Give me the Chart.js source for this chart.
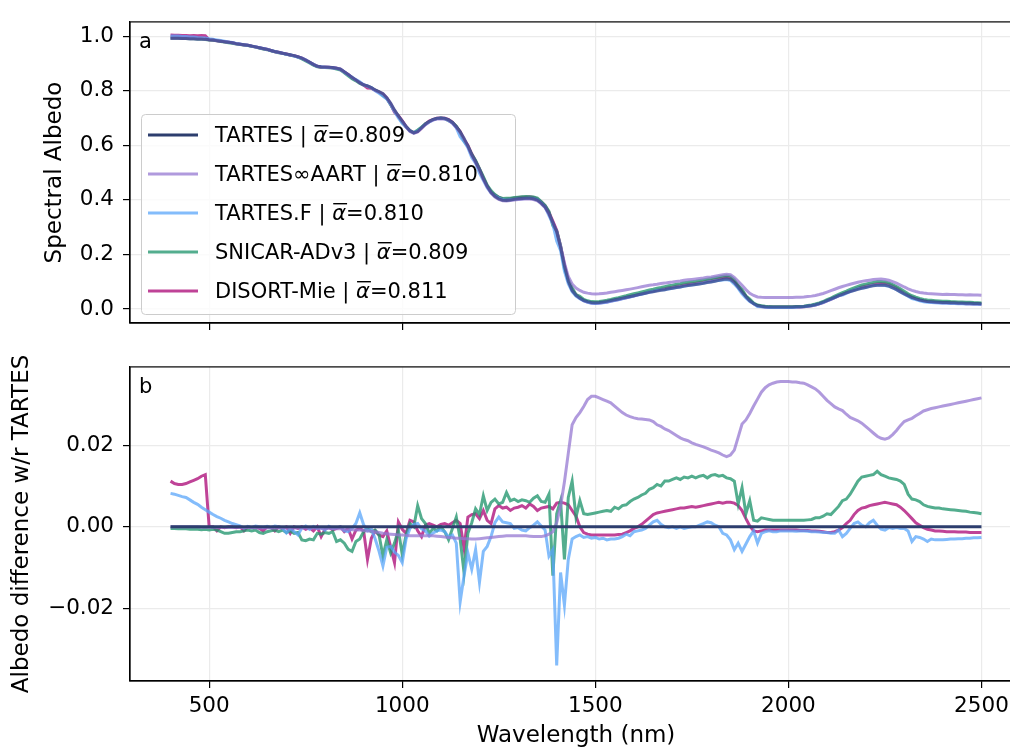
<!DOCTYPE html>
<html>
<head>
<meta charset="utf-8">
<script src="https://cdn.jsdelivr.net/npm/chart.js@4.4.1/dist/chart.umd.min.js"></script>
<style>
  html, body { margin: 0; padding: 0; background: #fff; overflow: hidden; width: 1010px; height: 750px; }
  #top { position: absolute; left: 0; top: 0; }
  #bot { position: absolute; left: 0; top: 345px; }
</style>
</head>
<body>
<canvas id="top" width="1022" height="345"></canvas>
<canvas id="bot" width="1022" height="405"></canvas>
<script>
'use strict';

// wavelengths (nm)
var wavelengths = [
  400,410,420,430,440,450,460,470,480,490,
  500,510,520,530,540,550,560,570,580,590,
  600,610,620,630,640,650,660,670,680,690,
  700,710,720,730,740,750,760,770,780,790,
  800,810,820,830,840,850,860,870,880,890,
  900,910,920,930,940,950,960,970,980,990,
  1000,1010,1020,1030,1040,1050,1060,1070,1080,1090,
  1100,1110,1120,1130,1140,1150,1160,1170,1180,1190,
  1200,1210,1220,1230,1240,1250,1260,1270,1280,1290,
  1300,1310,1320,1330,1340,1350,1360,1370,1380,1390,
  1400,1410,1420,1430,1440,1450,1460,1470,1480,1490,
  1500,1510,1520,1530,1540,1550,1560,1570,1580,1590,
  1600,1610,1620,1630,1640,1650,1660,1670,1680,1690,
  1700,1710,1720,1730,1740,1750,1760,1770,1780,1790,
  1800,1810,1820,1830,1840,1850,1860,1870,1880,1890,
  1900,1910,1920,1930,1940,1950,1960,1970,1980,1990,
  2000,2010,2020,2030,2040,2050,2060,2070,2080,2090,
  2100,2110,2120,2130,2140,2150,2160,2170,2180,2190,
  2200,2210,2220,2230,2240,2250,2260,2270,2280,2290,
  2300,2310,2320,2330,2340,2350,2360,2370,2380,2390,
  2400,2410,2420,2430,2440,2450,2460,2470,2480,2490,
  2500
];

// spectral albedo of TARTES (panel a)
var albedoTartes = [
  0.993,0.993,0.993,0.992,0.992,0.991,0.991,0.990,0.990,0.989,
  0.987,0.986,0.984,0.982,0.980,0.978,0.976,0.973,0.971,0.969,
  0.967,0.964,0.961,0.958,0.955,0.952,0.948,0.944,0.941,0.938,
  0.935,0.932,0.929,0.925,0.920,0.913,0.905,0.897,0.890,0.888,
  0.887,0.886,0.885,0.883,0.879,0.870,0.860,0.850,0.840,0.830,
  0.822,0.818,0.812,0.803,0.797,0.790,0.775,0.755,0.730,0.708,
  0.690,0.670,0.653,0.646,0.651,0.665,0.678,0.688,0.695,0.699,
  0.700,0.699,0.694,0.684,0.668,0.650,0.626,0.598,0.566,0.540,
  0.512,0.478,0.450,0.428,0.413,0.404,0.399,0.398,0.400,0.402,
  0.404,0.405,0.406,0.406,0.404,0.399,0.388,0.374,0.350,0.318,
  0.283,0.226,0.158,0.101,0.067,0.050,0.040,0.032,0.027,0.024,
  0.023,0.024,0.026,0.028,0.031,0.034,0.037,0.040,0.043,0.046,
  0.049,0.052,0.055,0.058,0.061,0.063,0.066,0.069,0.071,0.074,
  0.076,0.079,0.081,0.084,0.086,0.088,0.090,0.092,0.094,0.097,
  0.099,0.102,0.105,0.108,0.110,0.108,0.097,0.080,0.062,0.045,
  0.030,0.020,0.013,0.010,0.008,0.007,0.007,0.007,0.007,0.007,
  0.007,0.007,0.008,0.008,0.009,0.011,0.013,0.016,0.020,0.025,
  0.031,0.037,0.043,0.049,0.054,0.059,0.064,0.068,0.072,0.076,
  0.079,0.082,0.085,0.087,0.088,0.087,0.084,0.078,0.071,0.063,
  0.055,0.048,0.042,0.037,0.033,0.030,0.028,0.027,0.026,0.025,
  0.024,0.024,0.023,0.023,0.022,0.022,0.021,0.021,0.020,0.020,
  0.019
];

// albedo difference w/r TARTES (panel b)
var diffAart = [
  0,0,0,0,0,0,0,0,-0.0001,-0.0001,
  -0.0001,-0.0001,-0.0001,-0.0001,-0.0002,-0.0002,-0.0002,-0.0002,-0.0002,-0.0002,
  -0.0002,-0.0002,-0.0003,-0.0003,-0.0003,-0.0003,-0.0003,-0.0003,-0.0003,-0.0003,
  -0.0003,-0.0003,-0.0003,-0.0003,-0.0003,-0.0003,-0.0003,-0.0003,-0.0003,-0.0004,
  -0.0004,-0.0004,-0.0004,-0.0005,-0.0005,-0.0006,-0.0006,-0.0007,-0.0008,-0.0008,
  -0.0009,-0.0010,-0.0011,-0.0012,-0.0014,-0.0016,-0.0017,-0.0018,-0.0019,-0.0020,
  -0.0020,-0.0021,-0.0022,-0.0022,-0.0022,-0.0022,-0.0022,-0.0022,-0.0022,-0.0023,
  -0.0024,-0.0025,-0.0026,-0.0027,-0.0028,-0.0028,-0.0029,-0.0029,-0.0030,-0.0030,
  -0.0029,-0.0028,-0.0027,-0.0026,-0.0025,-0.0024,-0.0023,-0.0022,-0.0022,-0.0022,
  -0.0022,-0.0022,-0.0022,-0.0023,-0.0024,-0.0024,-0.0024,-0.0022,-0.0018,-0.0012,
  0.0010,0.0050,0.0110,0.0180,0.0250,0.0268,0.0280,0.0295,0.0312,0.0320,
  0.0320,0.0316,0.0312,0.0308,0.0304,0.0296,0.0288,0.0280,0.0274,0.0270,
  0.0267,0.0265,0.0264,0.0263,0.0262,0.0258,0.0250,0.0246,0.0240,0.0236,
  0.0230,0.0224,0.0218,0.0214,0.0211,0.0206,0.0202,0.0199,0.0196,0.0192,
  0.0188,0.0185,0.0181,0.0176,0.0172,0.0176,0.0188,0.0220,0.0252,0.0262,
  0.0278,0.0296,0.0313,0.0330,0.0341,0.0348,0.0352,0.0355,0.0356,0.0356,
  0.0356,0.0355,0.0355,0.0353,0.0352,0.0348,0.0343,0.0338,0.0330,0.0320,
  0.0310,0.0302,0.0294,0.0289,0.0285,0.0276,0.0268,0.0264,0.0260,0.0254,
  0.0246,0.0238,0.0230,0.0222,0.0217,0.0215,0.0218,0.0226,0.0236,0.0248,
  0.0258,0.0262,0.0266,0.0272,0.0278,0.0284,0.0287,0.0290,0.0292,0.0294,
  0.0296,0.0298,0.0300,0.0302,0.0304,0.0306,0.0308,0.0310,0.0312,0.0314,
  0.0316
];
var diffF = [
  0.0082,0.0080,0.0077,0.0074,0.0072,0.0066,0.0060,0.0055,0.0048,0.0042,
  0.0036,0.0030,0.0025,0.0021,0.0016,0.0012,0.0008,0.0005,0.0002,-0.0003,
  0.0001,-0.0002,0.0002,0.0000,-0.0001,0.0001,-0.0002,0.0002,0.0000,-0.0003,
  -0.0015,-0.0004,-0.0012,-0.0020,-0.0003,0.0002,-0.0006,0.0001,-0.0004,-0.0002,
  -0.0008,0.0001,-0.0004,-0.0002,0.0000,-0.0010,-0.0012,-0.0004,0.0008,0.0034,
  0.0005,-0.0010,-0.0005,-0.0030,-0.0060,-0.0096,-0.0050,-0.0048,-0.0062,-0.0070,
  -0.0088,-0.0030,-0.0004,0.0006,0.0008,-0.0005,-0.0010,-0.0023,-0.0015,-0.0010,
  -0.0008,-0.0012,-0.0025,-0.0020,-0.0040,-0.0184,-0.0120,-0.0064,-0.0104,-0.0056,
  -0.0136,-0.0060,-0.0048,-0.0024,0.0010,0.0024,0.0012,0.0010,0.0008,-0.0004,
  -0.0002,-0.0008,-0.0010,-0.0002,0.0004,0.0012,0.0002,-0.0008,-0.0072,-0.0056,
  -0.0340,-0.0112,-0.0192,-0.0080,-0.0030,-0.0024,-0.0020,-0.0026,-0.0024,-0.0028,
  -0.0026,-0.0030,-0.0028,-0.0032,-0.0030,-0.0030,-0.0028,-0.0024,-0.0018,-0.0022,
  -0.0012,-0.0010,-0.0008,-0.0004,0.0004,0.0012,0.0016,0.0006,0.0000,-0.0002,
  0.0000,-0.0004,0.0000,-0.0004,-0.0002,0.0000,0.0000,0.0004,0.0008,0.0012,
  0.0010,0.0004,0.0000,-0.0016,-0.0020,-0.0032,-0.0056,-0.0040,-0.0060,-0.0042,
  -0.0024,-0.0010,-0.0040,-0.0016,-0.0012,-0.0010,-0.0012,-0.0012,-0.0010,-0.0010,
  -0.0010,-0.0010,-0.0011,-0.0010,-0.0010,-0.0011,-0.0012,-0.0012,-0.0013,-0.0014,
  -0.0014,-0.0016,-0.0016,-0.0008,-0.0024,-0.0016,-0.0004,0.0008,0.0012,0.0004,
  0.0000,0.0010,0.0016,0.0004,-0.0006,-0.0008,-0.0002,-0.0004,-0.0002,-0.0004,
  -0.0004,-0.0010,-0.0036,-0.0024,-0.0026,-0.0030,-0.0036,-0.0030,-0.0032,-0.0032,
  -0.0032,-0.0031,-0.0030,-0.0030,-0.0029,-0.0029,-0.0028,-0.0028,-0.0027,-0.0027,
  -0.0026
];
var diffSnicar = [
  -0.0004,-0.0004,-0.0005,-0.0005,-0.0005,-0.0006,-0.0006,-0.0006,-0.0007,-0.0006,
  -0.0008,-0.0006,-0.0008,-0.0012,-0.0016,-0.0016,-0.0014,-0.0012,-0.0012,-0.0010,
  -0.0008,-0.0010,-0.0008,-0.0014,-0.0016,-0.0012,-0.0010,-0.0008,-0.0012,-0.0008,
  -0.0014,-0.0010,-0.0016,-0.0014,-0.0032,-0.0034,-0.0030,-0.0032,-0.0016,-0.0018,
  -0.0014,-0.0016,-0.0012,-0.0036,-0.0032,-0.0040,-0.0055,-0.0060,-0.0036,-0.0030,
  -0.0012,-0.0004,-0.0012,-0.0008,-0.0020,-0.0072,-0.0032,-0.0064,-0.0040,-0.0008,
  -0.0068,-0.0020,0.0008,0.0000,0.0052,0.0020,0.0008,-0.0016,-0.0004,-0.0010,
  0.0000,-0.0012,-0.0032,-0.0004,0.0024,-0.0030,-0.0112,-0.0016,0.0010,0.0044,
  0.0030,0.0076,0.0040,0.0060,0.0068,0.0056,0.0060,0.0084,0.0064,0.0068,
  0.0062,0.0066,0.0064,0.0060,0.0070,0.0076,0.0062,0.0060,0.0080,-0.0120,
  0.0032,0.0064,-0.0080,0.0072,0.0112,0.0024,0.0064,0.0032,0.0030,0.0032,
  0.0034,0.0036,0.0038,0.0040,0.0038,0.0048,0.0044,0.0052,0.0054,0.0062,
  0.0068,0.0072,0.0078,0.0082,0.0092,0.0096,0.0104,0.0100,0.0112,0.0112,
  0.0116,0.0120,0.0116,0.0122,0.0120,0.0124,0.0120,0.0124,0.0126,0.0120,
  0.0126,0.0128,0.0124,0.0126,0.0120,0.0118,0.0112,0.0056,0.0096,0.0032,
  0.0064,0.0016,0.0014,0.0022,0.0020,0.0018,0.0016,0.0016,0.0016,0.0016,
  0.0016,0.0016,0.0016,0.0016,0.0016,0.0017,0.0018,0.0022,0.0022,0.0026,
  0.0032,0.0030,0.0040,0.0050,0.0064,0.0068,0.0080,0.0096,0.0112,0.0122,
  0.0124,0.0126,0.0128,0.0136,0.0128,0.0124,0.0120,0.0118,0.0116,0.0112,
  0.0104,0.0080,0.0068,0.0066,0.0062,0.0054,0.0050,0.0048,0.0046,0.0046,
  0.0044,0.0043,0.0042,0.0041,0.0040,0.0039,0.0038,0.0036,0.0035,0.0034,
  0.0032
];
var diffDisort = [
  0.0112,0.0106,0.0104,0.0104,0.0106,0.0110,0.0114,0.0118,0.0124,0.0128,
  0.0000,0.0000,-0.0010,0.0000,-0.0002,0.0000,0.0000,-0.0002,0.0000,-0.0010,
  0.0000,-0.0002,0.0000,-0.0004,-0.0010,0.0000,-0.0002,-0.0010,0.0000,-0.0004,
  0.0000,-0.0016,0.0000,-0.0004,0.0000,-0.0006,-0.0002,-0.0010,0.0000,-0.0024,
  -0.0006,0.0000,-0.0008,-0.0004,0.0000,-0.0012,-0.0004,-0.0030,-0.0008,-0.0004,
  -0.0010,-0.0080,-0.0028,-0.0010,-0.0020,-0.0024,-0.0010,-0.0050,-0.0088,0.0012,
  -0.0006,-0.0016,0.0016,0.0012,-0.0010,-0.0024,0.0004,0.0008,0.0004,0.0000,
  0.0006,0.0008,0.0004,0.0010,0.0016,0.0008,-0.0052,0.0024,0.0030,0.0032,
  0.0020,0.0040,0.0016,0.0008,0.0044,0.0052,0.0046,0.0048,0.0040,0.0046,
  0.0048,0.0052,0.0046,0.0056,0.0050,0.0040,0.0046,0.0048,0.0050,0.0044,
  0.0058,0.0060,0.0058,0.0054,0.0040,0.0026,0.0000,-0.0014,-0.0018,-0.0020,
  -0.0020,-0.0020,-0.0020,-0.0020,-0.0020,-0.0020,-0.0019,-0.0018,-0.0014,-0.0010,
  -0.0004,0.0000,0.0006,0.0014,0.0022,0.0030,0.0034,0.0036,0.0038,0.0040,
  0.0042,0.0044,0.0046,0.0046,0.0048,0.0050,0.0048,0.0050,0.0052,0.0054,
  0.0056,0.0058,0.0060,0.0058,0.0060,0.0060,0.0058,0.0052,0.0040,0.0020,
  0.0002,-0.0010,-0.0012,-0.0010,-0.0008,-0.0008,-0.0008,-0.0008,-0.0008,-0.0008,
  -0.0008,-0.0008,-0.0008,-0.0009,-0.0009,-0.0009,-0.0010,-0.0010,-0.0011,-0.0012,
  -0.0014,-0.0014,-0.0012,-0.0008,-0.0002,0.0008,0.0016,0.0030,0.0040,0.0046,
  0.0048,0.0052,0.0054,0.0056,0.0058,0.0060,0.0058,0.0056,0.0054,0.0048,
  0.0040,0.0030,0.0020,0.0010,0.0004,-0.0002,-0.0006,-0.0008,-0.0010,-0.0010,
  -0.0011,-0.0012,-0.0012,-0.0012,-0.0013,-0.0013,-0.0013,-0.0014,-0.0014,-0.0014,
  -0.0014
];

var seriesNames = ['TARTES', 'TARTES\u221EAART', 'TARTES.F', 'SNICAR-ADv3', 'DISORT-Mie'];
var meanAlbedo = ['0.809', '0.810', '0.810', '0.809', '0.811'];
var seriesColors = ['#2d3e6e', 'rgba(150,120,210,0.75)', 'rgba(90,165,250,0.75)', 'rgba(35,150,110,0.78)', 'rgba(175,20,125,0.8)'];

var xTicks = [500, 1000, 1500, 2000, 2500];
var xTickLabels = ['500', '1000', '1500', '2000', '2500'];
var yTicksTop = [0.0, 0.2, 0.4, 0.6, 0.8, 1.0];
var yTickLabelsTop = ['0.0', '0.2', '0.4', '0.6', '0.8', '1.0'];
var yTicksBot = [-0.02, 0.0, 0.02];
var yTickLabelsBot = ['\u22120.02', '0.00', '0.02'];

// difference of each model w/r TARTES; TARTES itself is zero
var diffs = [albedoTartes.map(function (v) { return v - v; }), diffAart, diffF, diffSnicar, diffDisort];

Chart.defaults.font.family = '"DejaVu Sans", sans-serif';
Chart.defaults.font.size = 21.5;
Chart.defaults.color = '#000';

function points(arr) {
  return wavelengths.map(function (w, i) { return { x: w, y: arr[i] }; });
}

// ramka osi (górna i prawa krawędź)
var framePlugin = {
  id: 'frame',
  afterDraw: function (chart) {
    var a = chart.chartArea, c = chart.ctx;
    c.save();
    c.strokeStyle = '#000';
    c.lineWidth = 1.2;
    c.strokeRect(a.left, a.top, a.right - a.left, a.bottom - a.top);
    c.restore();
  }
};

function panelLetter(letter) {
  return {
    id: 'letter' + letter,
    afterDraw: function (chart) {
      var a = chart.chartArea, c = chart.ctx;
      c.save();
      c.fillStyle = '#000';
      c.font = '21px "DejaVu Sans"';
      c.textBaseline = 'alphabetic';
      c.fillText(letter, a.left + 9, a.top + 26);
      c.restore();
    }
  };
}

// legenda rysowana ręcznie: ramka pod liniami, opisy nad nimi
var legendPlugin = {
  id: 'boxLegend',
  beforeDatasetsDraw: function (chart) {
    var c = chart.ctx;
    c.save();
    c.beginPath();
    c.roundRect(141.5, 114.5, 374, 200, 4);
    c.fillStyle = 'rgba(255,255,255,0.8)';
    c.fill();
    c.strokeStyle = '#cccccc';
    c.lineWidth = 1;
    c.stroke();
    c.restore();
  },
  afterDraw: function (chart) {
    var c = chart.ctx;
    c.save();
    for (var i = 0; i < seriesNames.length; i++) {
      var y = 135 + i * 39;
      c.beginPath();
      c.moveTo(148, y);
      c.lineTo(198, y);
      c.strokeStyle = seriesColors[i];
      c.lineWidth = 3;
      c.stroke();
      var x = 215, base = y + 7;
      c.fillStyle = '#000';
      c.textBaseline = 'alphabetic';
      c.font = '21px "DejaVu Sans"';
      var pre = seriesNames[i] + ' | ';
      c.fillText(pre, x, base);
      x += c.measureText(pre).width;
      c.font = 'italic 21px "DejaVu Sans"';
      var aw = c.measureText('\u03B1').width;
      c.fillText('\u03B1', x, base);
      c.fillRect(x + 1, base - 17, aw, 1.4);
      x += aw;
      c.font = '21px "DejaVu Sans"';
      c.fillText('=' + meanAlbedo[i], x, base);
    }
    c.restore();
  }
};

function axisX(showLabels, height) {
  return {
    type: 'linear', min: 295, max: 2605,
    afterBuildTicks: function (s) { s.ticks = xTicks.map(function (v) { return { value: v }; }); },
    afterFit: function (s) { s.height = height; },
    ticks: {
      display: showLabels, padding: 6, maxRotation: 0,
      callback: function (v, i) { return xTickLabels[i]; }
    },
    grid: { color: '#ebebeb', lineWidth: 1.2, tickColor: '#000', tickLength: 7, tickWidth: 1.2 },
    border: { display: true, color: '#000', width: 1.2 },
    title: { display: showLabels, text: 'Wavelength (nm)', font: { size: 23 }, padding: { top: 0, bottom: 0 } }
  };
}

function axisY(min, max, ticks, labels, title, titlePad) {
  return {
    type: 'linear', min: min, max: max,
    afterBuildTicks: function (s) { s.ticks = ticks.map(function (v) { return { value: v }; }); },
    afterFit: function (s) { s.width = 130; },
    ticks: { padding: 9, callback: function (v, i) { return labels[i]; } },
    grid: { color: '#ebebeb', lineWidth: 1.2, tickColor: '#000', tickLength: 7, tickWidth: 1.2 },
    border: { display: true, color: '#000', width: 1.2 },
    title: { display: true, text: title, font: { size: 23 }, padding: { top: titlePad, bottom: 0 } }
  };
}

function baseOptions(padTop, xAxis, yAxis) {
  return {
    responsive: false, animation: false, devicePixelRatio: 1,
    layout: { padding: { top: padTop, left: 0, right: 0, bottom: 0 } },
    plugins: { legend: { display: false }, tooltip: { enabled: false } },
    elements: { point: { radius: 0 }, line: { borderWidth: 3, tension: 0 } },
    scales: { x: xAxis, y: yAxis }
  };
}

// panel a: albedo = TARTES + difference
var topColors = ['rgba(50,60,125,0.65)'].concat(seriesColors.slice(1));
var topData = diffs.map(function (d, k) {
  return {
    label: seriesNames[k],
    data: points(albedoTartes.map(function (v, i) { return v + d[i]; })),
    borderColor: topColors[k],
    fill: false
  };
});
new Chart(document.getElementById('top'), {
  type: 'line',
  data: { datasets: topData },
  options: baseOptions(7, axisX(false, 17), axisY(-0.0516, 1.0526, yTicksTop, yTickLabelsTop, 'Spectral Albedo', 41)),
  plugins: [framePlugin, panelLetter('a'), legendPlugin]
});

// panel b: differences
var botData = diffs.map(function (d, k) {
  return { label: seriesNames[k], data: points(d), borderColor: seriesColors[k], fill: false };
});
new Chart(document.getElementById('bot'), {
  type: 'line',
  data: { datasets: botData },
  options: baseOptions(15, axisX(true, 69), axisY(-0.0378, 0.0392, yTicksBot, yTickLabelsBot, 'Albedo difference w/r TARTES', 8)),
  plugins: [framePlugin, panelLetter('b')]
});
</script>
</body>
</html>
